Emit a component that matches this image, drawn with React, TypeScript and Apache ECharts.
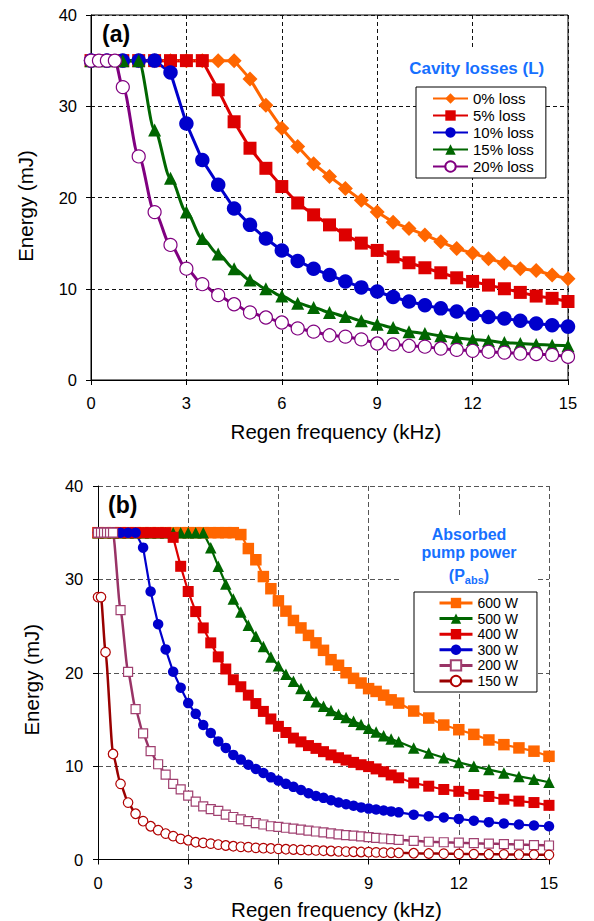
import React, { useEffect, useRef } from "react";
import * as echarts from "echarts";

const FONT = '"Liberation Sans", Arial, Helvetica, sans-serif';

// ---------- Panel (a): cavity losses ----------
const FREQ_A = [0, 0.5, 1, 1.5, 2, 2.5, 3, 3.5, 4, 4.5, 5, 5.5, 6, 6.5, 7, 7.5, 8, 8.5, 9, 9.5, 10, 10.5, 11, 11.5, 12, 12.5, 13, 13.5, 14, 14.5, 15];
const FREQ_A_20 = [0, 0.25, 0.5, 0.75, 1, 1.5, 2, 2.5, 3, 3.5, 4, 4.5, 5, 5.5, 6, 6.5, 7, 7.5, 8, 8.5, 9, 9.5, 10, 10.5, 11, 11.5, 12, 12.5, 13, 13.5, 14, 14.5, 15];
const LOSS_0 = [35, 35, 35, 35, 35, 35, 35, 35, 35, 35, 33.0, 30.1, 27.6, 25.6, 23.7, 22.3, 21.0, 19.7, 18.4, 17.3, 16.6, 15.9, 15.15, 14.4, 13.9, 13.3, 12.8, 12.2, 12.0, 11.5, 11.1];
const LOSS_5 = [35, 35, 35, 35, 35, 35, 35, 35, 31.8, 28.3, 25.4, 23.2, 21.2, 19.4, 18.1, 17.0, 15.9, 15.0, 14.2, 13.5, 12.85, 12.3, 11.75, 11.2, 10.8, 10.4, 10.0, 9.6, 9.2, 8.95, 8.6];
const LOSS_10 = [35, 35, 35, 35, 35, 33.7, 28.1, 24.1, 21.4, 18.8, 17.0, 15.5, 14.2, 13.05, 12.2, 11.5, 10.8, 10.15, 9.7, 9.1, 8.6, 8.2, 7.85, 7.5, 7.2, 6.9, 6.75, 6.5, 6.2, 6.0, 5.85];
const LOSS_15 = [35, 35, 35, 35, 27.4, 22.1, 18.4, 15.5, 13.8, 12.2, 10.95, 10.0, 9.2, 8.4, 7.95, 7.4, 6.95, 6.5, 6.1, 5.75, 5.3, 5.1, 4.85, 4.6, 4.45, 4.3, 4.1, 4.0, 3.9, 3.8, 3.75];
const LOSS_20 = [35, 35, 35, 35, 32.1, 24.5, 18.4, 14.8, 12.2, 10.5, 9.3, 8.3, 7.4, 6.85, 6.3, 5.65, 5.3, 4.9, 4.75, 4.45, 4.0, 3.9, 3.75, 3.65, 3.45, 3.3, 3.2, 3.1, 3.0, 2.9, 2.85, 2.75, 2.55];
const LEGEND_A = ["0% loss", "5% loss", "10% loss", "15% loss", "20% loss"];

// ---------- Panel (b): absorbed pump power ----------
const FREQ_B = [0, 0.25, 0.5, 0.75, 1, 1.25, 1.5, 1.75, 2, 2.25, 2.5, 2.75, 3, 3.25, 3.5, 3.75, 4, 4.25, 4.5, 4.75, 5, 5.25, 5.5, 5.75, 6, 6.25, 6.5, 6.75, 7, 7.25, 7.5, 7.75, 8, 8.25, 8.5, 8.75, 9, 9.25, 9.5, 9.75, 10, 10.5, 11, 11.5, 12, 12.5, 13, 13.5, 14, 14.5, 15];
const FREQ_B_200 = [0, 0.1, 0.2, 0.3, 0.4, 0.5, 0.75, 1, 1.25, 1.5, 1.75, 2, 2.25, 2.5, 2.75, 3, 3.25, 3.5, 3.75, 4, 4.25, 4.5, 4.75, 5, 5.25, 5.5, 5.75, 6, 6.25, 6.5, 6.75, 7, 7.25, 7.5, 7.75, 8, 8.25, 8.5, 8.75, 9, 9.25, 9.5, 9.75, 10, 10.5, 11, 11.5, 12, 12.5, 13, 13.5, 14, 14.5, 15];
const FREQ_B_150 = [0, 0.1, 0.25, 0.5, 0.75, 1, 1.25, 1.5, 1.75, 2, 2.25, 2.5, 2.75, 3, 3.25, 3.5, 3.75, 4, 4.25, 4.5, 4.75, 5, 5.25, 5.5, 5.75, 6, 6.25, 6.5, 6.75, 7, 7.25, 7.5, 7.75, 8, 8.25, 8.5, 8.75, 9, 9.25, 9.5, 9.75, 10, 10.5, 11, 11.5, 12, 12.5, 13, 13.5, 14, 14.5, 15];
const PWR_600 = [35, 35, 35, 35, 35, 35, 35, 35, 35, 35, 35, 35, 35, 35, 35, 35, 35, 35, 35, 34.8, 33.3, 32.1, 30.3, 29.0, 27.7, 26.6, 25.6, 24.8, 24.0, 23.2, 22.4, 21.4, 20.8, 20.0, 19.4, 18.9, 18.3, 18.0, 17.6, 17.1, 16.75, 15.9, 15.15, 14.4, 13.9, 13.4, 12.8, 12.3, 11.95, 11.6, 11.05];
const PWR_500 = [35, 35, 35, 35, 35, 35, 35, 35, 35, 35, 35, 35, 35, 35, 35, 33.4, 31.4, 29.5, 27.9, 26.5, 25.1, 23.9, 22.8, 21.7, 20.75, 19.85, 19.1, 18.3, 17.6, 16.9, 16.4, 15.95, 15.55, 15.2, 14.8, 14.45, 14.05, 13.65, 13.25, 12.9, 12.6, 11.95, 11.4, 10.9, 10.4, 10.0, 9.63, 9.27, 8.9, 8.6, 8.27];
const PWR_400 = [35, 35, 35, 35, 35, 35, 35, 35, 35, 35, 34.5, 31.4, 28.7, 26.55, 24.8, 23.2, 21.7, 20.4, 19.25, 18.5, 17.6, 16.7, 15.86, 15.05, 14.26, 13.6, 13.0, 12.6, 12.2, 11.9, 11.55, 11.2, 10.9, 10.65, 10.4, 10.15, 9.95, 9.7, 9.4, 9.05, 8.75, 8.2, 7.85, 7.5, 7.3, 6.95, 6.75, 6.45, 6.25, 6.1, 5.8];
const PWR_300 = [35, 35, 35, 35, 35, 35, 33.4, 28.7, 25.2, 22.5, 20.1, 18.4, 16.75, 15.6, 14.4, 13.55, 12.65, 11.95, 11.2, 10.7, 10.15, 9.7, 9.27, 8.8, 8.45, 8.1, 7.78, 7.45, 7.1, 6.8, 6.6, 6.35, 6.1, 5.92, 5.75, 5.58, 5.45, 5.35, 5.25, 5.15, 5.05, 4.8, 4.63, 4.5, 4.35, 4.15, 4.0, 3.85, 3.74, 3.64, 3.56];
const PWR_200 = [35, 35, 35, 35, 35, 35, 26.7, 20.1, 16.1, 13.5, 11.6, 10.2, 9.1, 8.1, 7.5, 6.85, 6.2, 5.7, 5.4, 5.2, 4.8, 4.55, 4.3, 4.1, 3.9, 3.75, 3.56, 3.5, 3.4, 3.3, 3.2, 3.1, 3.0, 2.9, 2.8, 2.7, 2.62, 2.55, 2.48, 2.4, 2.32, 2.25, 2.18, 2.1, 2.0, 1.9, 1.85, 1.8, 1.75, 1.7, 1.65, 1.6, 1.55, 1.5];
const PWR_150 = [28.1, 28.1, 22.2, 11.3, 8.1, 6.1, 4.9, 4.1, 3.56, 3.14, 2.78, 2.5, 2.2, 2.06, 1.85, 1.78, 1.7, 1.6, 1.5, 1.42, 1.36, 1.32, 1.25, 1.21, 1.18, 1.14, 1.1, 1.07, 1.03, 1.0, 0.97, 0.94, 0.91, 0.88, 0.85, 0.83, 0.8, 0.78, 0.76, 0.74, 0.72, 0.7, 0.67, 0.64, 0.62, 0.6, 0.58, 0.56, 0.55, 0.53, 0.52, 0.5];
const LEGEND_B = ["600 W", "500 W", "400 W", "300 W", "200 W", "150 W"];

const X_AXIS_NAME = "Regen frequency (kHz)";
const Y_AXIS_NAME = "Energy (mJ)";

const pair = (xs: number[], ys: number[]) => xs.map((x, i) => [x, ys[i]]);

function mkSeries(name: string, xs: number[], ys: number[], g: number, o: any) {
  return {
    type: "line",
    name,
    xAxisIndex: g,
    yAxisIndex: g,
    data: pair(xs, ys),
    smooth: o.smooth || false,
    smoothMonotone: "x",
    showAllSymbol: true,
    clip: false,
    symbol: o.symbol,
    symbolSize: o.size,
    lineStyle: { color: o.line, width: o.lw },
    itemStyle: { color: o.fill, borderColor: o.stroke || o.fill, borderWidth: o.bw || 0 },
    emphasis: { disabled: true },
  };
}

function xAxisCfg(g: number, gridColor: string, dash: number[], nameGap: number, shift: number) {
  return {
    gridIndex: g,
    type: "value",
    min: 0,
    max: 15,
    interval: 3,
    axisLine: { show: true, onZero: false, lineStyle: { color: "#000", width: 1 } },
    axisTick: { show: true, length: 5, lineStyle: { color: "#000" } },
    axisLabel: { fontSize: 16.5, color: "#000", margin: 14.5, fontFamily: FONT },
    splitLine: { show: true, lineStyle: { color: gridColor, type: dash, width: 1 } },
    name: X_AXIS_NAME,
    nameLocation: "middle",
    nameGap,
    nameTextStyle: { fontSize: 20.5, color: "#000", fontFamily: FONT, padding: [0, 0, 0, shift] },
  };
}

function yAxisCfg(g: number, gridColor: string, dash: number[], nameGap: number, shift: number, margin: number) {
  return {
    gridIndex: g,
    type: "value",
    min: 0,
    max: 40,
    interval: 10,
    axisLine: { show: true, onZero: false, lineStyle: { color: "#000", width: 1 } },
    axisTick: { show: true, length: 5, lineStyle: { color: "#000" } },
    axisLabel: { fontSize: 16.5, color: "#000", margin, fontFamily: FONT },
    splitLine: { show: true, lineStyle: { color: gridColor, type: dash, width: 1 } },
    name: Y_AXIS_NAME,
    nameLocation: "middle",
    nameGap,
    nameTextStyle: { fontSize: 20.5, color: "#000", fontFamily: FONT, padding: [0, shift, 0, 0] },
  };
}

const BLUE_TITLE = "#1670ff";

export default function App() {
  const ref = useRef<HTMLDivElement>(null);
  useEffect(() => {
    if (!ref.current) return;
    const chart = echarts.init(ref.current, undefined, { renderer: "svg" });
    const option: any = {
      animation: false,
      backgroundColor: "#fff",
      textStyle: { fontFamily: FONT },
      grid: [
        { left: 91, top: 15, width: 477, height: 365, show: true, borderColor: "#000", borderWidth: 1 },
        { left: 98, top: 486, width: 451, height: 374, show: false },
      ],
      xAxis: [
        xAxisCfg(0, "#111", [4, 3], 41, 13),
        xAxisCfg(1, "#555", [5, 3], 39.5, 26),
        {
          gridIndex: 1,
          type: "value",
          position: "top",
          min: 0,
          max: 15,
          interval: 3,
          axisLine: { show: true, lineStyle: { color: "#000", width: 1 } },
          axisTick: { show: false },
          axisLabel: { show: false },
          splitLine: { show: false },
        },
      ],
      yAxis: [yAxisCfg(0, "#111", [4, 3], 55, 17, 14), yAxisCfg(1, "#555", [5, 3], 56, 14, 14.7)],
      legend: [
        {
          data: LEGEND_A,
          orient: "vertical",
          left: 416,
          top: 87,
          padding: [4, 12, 4, 16],
          itemWidth: 35,
          itemHeight: 13,
          itemGap: 2,
          borderColor: "#000",
          borderWidth: 1,
          backgroundColor: "#fff",
          selectedMode: false,
          textStyle: { fontSize: 15, lineHeight: 15, color: "#000", fontFamily: FONT },
        },
        {
          data: LEGEND_B,
          orient: "vertical",
          left: 414,
          top: 592,
          padding: [4, 19, 4, 24],
          itemWidth: 33,
          itemHeight: 13,
          itemGap: 1.6,
          borderColor: "#000",
          borderWidth: 1,
          backgroundColor: "#fff",
          selectedMode: false,
          lineStyle: { width: 3 },
          textStyle: { fontSize: 14, lineHeight: 14, color: "#000", fontFamily: FONT },
        },
      ],
      graphic: [
        { type: "rect", z: 1, shape: { x: 400, y: 50, width: 150, height: 37 }, style: { fill: "#fff" } },
        { type: "rect", z: 1, shape: { x: 400, y: 517, width: 138, height: 75 }, style: { fill: "#fff" } },
        {
          type: "text", z: 10, x: 102, y: 33.5,
          style: { text: "(a)", fontSize: 23, fontWeight: "bold", fontFamily: FONT, fill: "#000", align: "left", verticalAlign: "middle", textAlign: "left", textVerticalAlign: "middle" },
        },
        {
          type: "text", z: 10, x: 108, y: 504.5,
          style: { text: "(b)", fontSize: 23, fontWeight: "bold", fontFamily: FONT, fill: "#000", align: "left", verticalAlign: "middle", textAlign: "left", textVerticalAlign: "middle" },
        },
        {
          type: "text", z: 10, x: 476.7, y: 68.3,
          style: { text: "Cavity losses (L)", fontSize: 17, fontWeight: "bold", fontFamily: FONT, fill: BLUE_TITLE, align: "center", verticalAlign: "middle", textAlign: "center", textVerticalAlign: "middle" },
        },
        {
          type: "text", z: 10, x: 469, y: 534.5,
          style: { text: "Absorbed", fontSize: 16, fontWeight: "bold", fontFamily: FONT, fill: BLUE_TITLE, align: "center", verticalAlign: "middle", textAlign: "center", textVerticalAlign: "middle" },
        },
        {
          type: "text", z: 10, x: 469, y: 552,
          style: { text: "pump power", fontSize: 16, fontWeight: "bold", fontFamily: FONT, fill: BLUE_TITLE, align: "center", verticalAlign: "middle", textAlign: "center", textVerticalAlign: "middle" },
        },
        {
          type: "text", z: 10, x: 469, y: 575,
          style: {
            text: "{a|(P}{s|abs}{a|)}",
            fontSize: 16, fontWeight: "bold", fontFamily: FONT, fill: BLUE_TITLE,
            align: "center", verticalAlign: "middle", textAlign: "center", textVerticalAlign: "middle",
            rich: {
              a: { fontSize: 16, fontWeight: "bold", fontFamily: FONT, fill: BLUE_TITLE, color: BLUE_TITLE, lineHeight: 20 },
              s: { fontSize: 11, fontWeight: "bold", fontFamily: FONT, fill: BLUE_TITLE, color: BLUE_TITLE, lineHeight: 11, verticalAlign: "bottom" },
            },
          },
        },
      ],
      series: [
        mkSeries(LEGEND_A[0], FREQ_A, LOSS_0, 0, { symbol: "diamond", size: 15, line: "#ff6600", lw: 3, fill: "#ff6600" }),
        mkSeries(LEGEND_A[1], FREQ_A, LOSS_5, 0, { symbol: "rect", size: 13, line: "#dd0000", lw: 3, fill: "#dd0000" }),
        mkSeries(LEGEND_A[2], FREQ_A, LOSS_10, 0, { symbol: "circle", size: 14.5, line: "#0000cc", lw: 3, fill: "#0000cc" }),
        mkSeries(LEGEND_A[3], FREQ_A, LOSS_15, 0, { symbol: "triangle", size: 13, line: "#006600", lw: 3, fill: "#006600", smooth: 0.3 }),
        mkSeries(LEGEND_A[4], FREQ_A_20, LOSS_20, 0, { symbol: "circle", size: 13, line: "#800080", lw: 3, fill: "#ffffff", stroke: "#800080", bw: 1.2, smooth: 0.3 }),
        mkSeries(LEGEND_B[0], FREQ_B, PWR_600, 1, { symbol: "rect", size: 11.5, line: "#ff6600", lw: 2.2, fill: "#ff6600" }),
        mkSeries(LEGEND_B[1], FREQ_B, PWR_500, 1, { symbol: "triangle", size: 11.5, line: "#006600", lw: 2.2, fill: "#006600" }),
        mkSeries(LEGEND_B[2], FREQ_B, PWR_400, 1, { symbol: "rect", size: 11, line: "#dd0000", lw: 2.2, fill: "#dd0000" }),
        mkSeries(LEGEND_B[3], FREQ_B, PWR_300, 1, { symbol: "circle", size: 10.5, line: "#0000cc", lw: 2.2, fill: "#0000cc" }),
        mkSeries(LEGEND_B[4], FREQ_B_200, PWR_200, 1, { symbol: "rect", size: 9, line: "#993366", lw: 2.5, fill: "#ffffff", stroke: "#a04070", bw: 1.2, smooth: 0.2 }),
        mkSeries(LEGEND_B[5], FREQ_B_150, PWR_150, 1, { symbol: "circle", size: 9.5, line: "#990000", lw: 2.5, fill: "#ffffff", stroke: "#b00000", bw: 1.2, smooth: 0.2 }),
      ],
    };
    chart.setOption(option);
    return () => chart.dispose();
  }, []);
  return <div ref={ref} style={{ position: "fixed", left: 0, top: 0, width: 594, height: 921 }} />;
}
